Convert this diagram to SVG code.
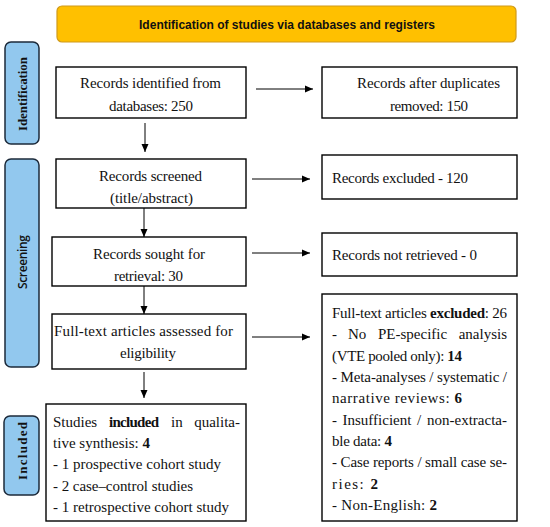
<svg xmlns="http://www.w3.org/2000/svg" width="550" height="527" viewBox="0 0 550 527">
<style>
.box{fill:#fff;stroke:#000;stroke-width:1.4}
.side{fill:#92C8EE;stroke:#1C2A3A;stroke-width:1.5}
.hdr{fill:#FFC000;stroke:#D09A1A;stroke-width:1.2}
.t{font-family:"Liberation Serif","Times New Roman",serif;font-size:15px;fill:#111}
.b{font-weight:bold}
.st{font-family:"Liberation Serif","Times New Roman",serif;font-size:13px;font-weight:bold;fill:#111}
.ss{font-family:"Open Sans","Liberation Sans",sans-serif;font-size:12px;font-weight:600;fill:#111}
.h{font-family:"Liberation Sans",Arial,sans-serif;font-size:12px;font-weight:bold;fill:#111}
.c{stroke:#000;stroke-width:1;fill:none;marker-end:url(#ah)}
</style>
<defs>
<marker id="ah" markerUnits="userSpaceOnUse" markerWidth="8" markerHeight="8" refX="8" refY="4" orient="auto">
<path d="M0,0.5 L8,4 L0,7.5 Z" fill="#000"/>
</marker>
</defs>
<g id="header">
<rect class="hdr" x="57" y="6" width="459" height="36" rx="5"/>
<text class="h" x="287" y="29" text-anchor="middle" textLength="296">Identification of studies via databases and registers</text>
</g>
<g id="lbl-identification">
<rect class="side" x="5" y="42" width="34" height="102" rx="6"/>
<text class="st" transform="translate(26.5,94) rotate(-90)" text-anchor="middle" textLength="74">Identification</text>
</g>
<g id="lbl-screening">
<rect class="side" x="5" y="159" width="34" height="208" rx="6"/>
<text class="ss" transform="translate(26.5,262) rotate(-90)" text-anchor="middle" textLength="54">Screening</text>
</g>
<g id="lbl-included">
<rect class="side" x="4" y="416" width="35" height="79" rx="6"/>
<text class="st" transform="translate(26.5,451) rotate(-90)" text-anchor="middle" textLength="58">Included</text>
</g>
<g id="n-identified">
<rect class="box" x="56" y="67" width="190" height="51"/>
<text class="t" x="80" y="88" textLength="141">Records identified from</text>
<text class="t" x="109" y="111" textLength="84">databases: 250</text>
</g>
<g id="n-duplicates">
<rect class="box" x="322" y="67" width="195" height="51"/>
<text class="t" x="357" y="88" textLength="143">Records after duplicates</text>
<text class="t" x="390" y="111" textLength="78">removed: 150</text>
</g>
<g id="n-screened">
<rect class="box" x="56" y="159" width="190" height="49"/>
<text class="t" x="99" y="181" textLength="103">Records screened</text>
<text class="t" x="110" y="203" textLength="83">(title/abstract)</text>
</g>
<g id="n-excluded">
<rect class="box" x="322" y="155" width="195" height="44"/>
<text class="t" x="332" y="183" textLength="136">Records excluded - 120</text>
</g>
<g id="n-sought">
<rect class="box" x="52" y="237" width="194" height="49"/>
<text class="t" x="93" y="259" textLength="112">Records sought for</text>
<text class="t" x="114" y="281" textLength="69">retrieval: 30</text>
</g>
<g id="n-notretrieved">
<rect class="box" x="322" y="233" width="195" height="43"/>
<text class="t" x="332" y="260" textLength="145">Records not retrieved - 0</text>
</g>
<g id="n-assessed">
<rect class="box" x="52" y="314" width="194" height="55"/>
<text class="t" x="54" y="336" textLength="179">Full-text articles assessed for</text>
<text class="t" x="120" y="358" textLength="56">eligibility</text>
</g>
<g id="n-ftexcluded">
<rect class="box" x="322" y="294" width="195" height="227"/>
<text class="t" x="332" y="318" textLength="175">Full-text articles <tspan class="b">excluded</tspan>: 26</text>
<text class="t" y="339"><tspan x="332">-</tspan><tspan x="348">No</tspan><tspan x="378">PE-specific</tspan></text>
<text class="t" x="507" y="339" text-anchor="end">analysis</text>
<text class="t" x="332" y="361" textLength="130">(VTE pooled only): <tspan class="b">14</tspan></text>
<text class="t" x="332" y="382" textLength="175">- Meta-analyses / systematic /</text>
<text class="t" x="332" y="403" textLength="130">narrative reviews: <tspan class="b">6</tspan></text>
<text class="t" y="425"><tspan x="332">-</tspan><tspan x="342.5">Insufficient</tspan><tspan x="417">/</tspan></text>
<text class="t" x="507" y="425" text-anchor="end">non-extracta-</text>
<text class="t" x="332" y="446" textLength="60">ble data: <tspan class="b">4</tspan></text>
<text class="t" x="332" y="467" textLength="175">- Case reports / small case se-</text>
<text class="t" x="332" y="489" textLength="46">ries: <tspan class="b">2</tspan></text>
<text class="t" x="332" y="510" textLength="105">- Non-English: <tspan class="b">2</tspan></text>
</g>
<g id="n-included">
<rect class="box" x="46" y="404" width="200" height="117"/>
<text class="t" y="427"><tspan x="53">Studies</tspan><tspan x="109" class="b" textLength="50">included</tspan><tspan x="171">in</tspan></text>
<text class="t" x="240" y="427" text-anchor="end">qualita-</text>
<text class="t" x="53" y="448" textLength="97">tive synthesis: <tspan class="b">4</tspan></text>
<text class="t" x="53" y="469" textLength="168">- 1 prospective cohort study</text>
<text class="t" x="53" y="491" textLength="140">- 2 case–control studies</text>
<text class="t" x="53" y="512" textLength="176">- 1 retrospective cohort study</text>
</g>
<g id="connectors">
<line class="c" x1="256" y1="89" x2="313" y2="89"/>
<line class="c" x1="145" y1="123" x2="145" y2="152"/>
<line class="c" x1="252" y1="179" x2="310" y2="179"/>
<line class="c" x1="144" y1="208" x2="144" y2="237"/>
<line class="c" x1="252" y1="253" x2="310" y2="253"/>
<line class="c" x1="144" y1="286" x2="144" y2="314"/>
<line class="c" x1="252" y1="337" x2="310" y2="337"/>
<line class="c" x1="144" y1="372" x2="144" y2="398"/>
</g>
</svg>
